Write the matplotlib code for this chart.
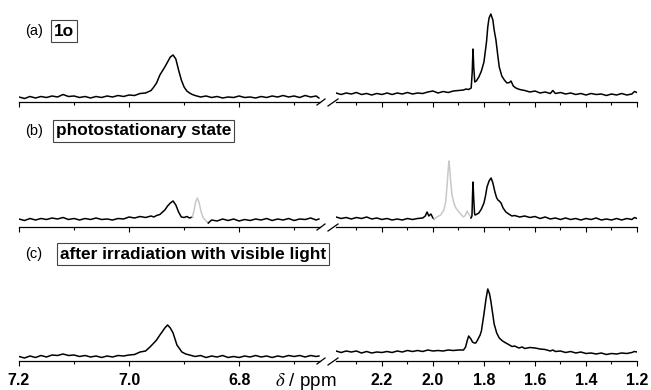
import numpy as np
import matplotlib.pyplot as plt
from matplotlib.ticker import MultipleLocator, FormatStrFormatter

plt.rcParams['font.family'] = ['Liberation Sans', 'DejaVu Sans']
plt.rcParams['mathtext.fontset'] = 'stix'

# spectra: (ppm, intensity) pairs, arbitrary units
# (a) 1o
a_left = [(7.20, 5), (7.19, 3.5), (7.18, 5.5), (7.17, 4), (7.16, 5.5), (7.15, 4.5), (7.14, 6), (7.13, 5),
          (7.12, 7.5), (7.11, 5.5), (7.10, 6), (7.09, 4.5), (7.08, 5.5), (7.07, 4), (7.06, 5.5), (7.05, 4.5),
          (7.04, 6), (7.03, 5), (7.02, 6.5), (7.01, 5.5), (7.00, 7), (6.99, 6.5), (6.98, 8.5), (6.97, 9),
          (6.96, 11.5), (6.955, 15), (6.95, 19), (6.944, 27), (6.935, 35), (6.93, 40), (6.925, 45), (6.92, 47),
          (6.915, 43), (6.91, 32), (6.905, 22), (6.90, 15), (6.895, 11), (6.89, 9), (6.885, 7.5), (6.88, 6.5),
          (6.87, 5), (6.86, 6), (6.85, 4.5), (6.84, 5.5), (6.83, 4), (6.82, 5), (6.81, 4.5), (6.80, 6),
          (6.79, 4.5), (6.78, 5), (6.77, 4), (6.76, 5.5), (6.75, 4.5), (6.74, 6), (6.73, 5), (6.72, 6.5),
          (6.71, 5), (6.70, 6), (6.69, 4.5), (6.68, 6.5), (6.67, 5), (6.66, 6), (6.655, 4)]
a_right = [(2.38, 9), (2.36, 7.5), (2.34, 9), (2.32, 8), (2.30, 9.5), (2.28, 7.5), (2.26, 8.5), (2.24, 7),
           (2.22, 8.5), (2.20, 7.5), (2.18, 9), (2.16, 7.5), (2.14, 9), (2.12, 8), (2.10, 9.5), (2.08, 8),
           (2.06, 9), (2.04, 8.5), (2.02, 10), (2.00, 11), (1.98, 9), (1.96, 10.5), (1.94, 9.5), (1.92, 11),
           (1.90, 11.5), (1.88, 12), (1.87, 13), (1.86, 12.5), (1.85, 14), (1.846, 30), (1.843, 53), (1.840, 35),
           (1.836, 20), (1.83, 21), (1.82, 25), (1.81, 31), (1.80, 40), (1.79, 60), (1.785, 75), (1.78, 84),
           (1.773, 88), (1.765, 82), (1.76, 72), (1.753, 62), (1.745, 45), (1.74, 35), (1.73, 26), (1.72, 22),
           (1.71, 19), (1.70, 19.5), (1.694, 21), (1.685, 16), (1.675, 14), (1.66, 12.5), (1.64, 11.5), (1.62, 10),
           (1.60, 11), (1.58, 9), (1.56, 10), (1.54, 8.5), (1.53, 11.5), (1.52, 8.5), (1.50, 9.5), (1.48, 8),
           (1.46, 9), (1.44, 7.5), (1.42, 8.5), (1.40, 7), (1.38, 8.5), (1.36, 7.5), (1.34, 8), (1.32, 6.5),
           (1.30, 8), (1.28, 7), (1.26, 8.5), (1.24, 7), (1.22, 8), (1.21, 10.5), (1.20, 9.5)]

# (b) photostationary state: black = 1o, grey = closed form
b_left_1 = [(7.20, 8), (7.19, 6.5), (7.18, 8.5), (7.17, 7), (7.16, 8.5), (7.15, 7.5), (7.14, 9), (7.13, 8),
            (7.12, 9.5), (7.11, 7.5), (7.10, 8.5), (7.09, 7), (7.08, 8.5), (7.07, 7.5), (7.06, 9), (7.05, 7.5),
            (7.04, 8), (7.03, 7), (7.02, 8.5), (7.01, 8), (7.00, 10), (6.99, 9), (6.98, 10.5), (6.97, 9.5),
            (6.96, 11), (6.955, 10), (6.95, 11.5), (6.944, 12.5), (6.935, 17), (6.93, 21), (6.925, 24), (6.92, 26),
            (6.915, 22), (6.91, 15), (6.905, 10), (6.90, 9.5), (6.895, 10.5), (6.89, 9), (6.885, 10)]
b_left_grey = [(6.885, 10), (6.882, 16), (6.879, 25), (6.876, 29), (6.873, 25), (6.869, 15), (6.865, 9),
               (6.86, 6), (6.856, 4)]
b_left_2 = [(6.856, 4), (6.85, 7), (6.84, 6), (6.83, 8), (6.82, 6.5), (6.81, 8), (6.80, 6), (6.79, 7.5),
            (6.78, 6.5), (6.77, 8), (6.76, 7), (6.75, 8.5), (6.74, 6.5), (6.73, 8), (6.72, 7), (6.71, 8.5),
            (6.70, 6.5), (6.69, 8), (6.68, 7.5), (6.67, 9), (6.66, 7), (6.655, 8)]
b_right_1 = [(2.38, 10), (2.36, 8.5), (2.34, 9.5), (2.32, 8), (2.30, 9.5), (2.28, 8.5), (2.26, 10), (2.24, 8),
             (2.22, 9), (2.20, 7.5), (2.18, 8.5), (2.16, 7), (2.14, 8), (2.12, 7), (2.10, 8.5), (2.08, 7.5),
             (2.06, 8.5), (2.04, 9), (2.03, 11), (2.023, 15), (2.016, 11), (2.008, 13), (2.00, 9), (1.996, 8)]
b_right_grey = [(1.996, 8), (1.984, 10), (1.97, 12), (1.957, 17), (1.95, 25), (1.945, 40), (1.94, 58),
                (1.937, 66), (1.933, 55), (1.93, 44), (1.925, 32), (1.918, 24), (1.91, 19), (1.898, 15),
                (1.888, 12), (1.88, 10), (1.872, 12), (1.866, 16), (1.86, 13), (1.851, 10)]
b_right_2 = [(1.851, 9), (1.847, 11), (1.845, 30), (1.843, 45), (1.840, 28), (1.837, 14), (1.835, 12),
             (1.83, 12.5), (1.82, 14), (1.81, 18), (1.80, 24), (1.794, 31), (1.788, 40), (1.78, 46), (1.772, 49),
             (1.765, 44), (1.757, 35), (1.75, 29), (1.745, 27), (1.74, 26), (1.733, 24), (1.725, 19), (1.714, 15),
             (1.70, 12.5), (1.69, 11), (1.68, 11.5), (1.66, 10), (1.64, 11), (1.62, 9.5), (1.60, 10.5), (1.58, 8.5),
             (1.56, 10), (1.54, 8), (1.52, 9), (1.50, 7.5), (1.48, 9), (1.46, 7.5), (1.44, 8.5), (1.42, 7),
             (1.40, 8.5), (1.38, 7.5), (1.36, 9), (1.34, 7), (1.32, 8), (1.30, 7), (1.28, 8.5), (1.26, 7),
             (1.24, 8.5), (1.22, 7.5), (1.21, 9.5), (1.20, 8.5)]

# (c) after irradiation with visible light
c_left = [(7.20, 4.5), (7.19, 3), (7.18, 5), (7.17, 3.5), (7.16, 5.5), (7.15, 4), (7.14, 6), (7.13, 5.5),
          (7.12, 7), (7.11, 5.5), (7.10, 6), (7.09, 4.5), (7.08, 5.5), (7.07, 4), (7.06, 5), (7.05, 3.5),
          (7.04, 5), (7.03, 4), (7.02, 5.5), (7.01, 5), (7.00, 6), (6.99, 6.5), (6.98, 9), (6.97, 10),
          (6.962, 14), (6.955, 18), (6.95, 21), (6.944, 26), (6.94, 29), (6.935, 33), (6.93, 36), (6.925, 33),
          (6.92, 28), (6.913, 16), (6.904, 9), (6.897, 7), (6.89, 6), (6.88, 4.5), (6.87, 5.5), (6.86, 3.5),
          (6.85, 5), (6.84, 4), (6.83, 5.5), (6.82, 3.5), (6.81, 4.5), (6.80, 3.5), (6.79, 5), (6.78, 4),
          (6.77, 5.5), (6.76, 4), (6.75, 5), (6.74, 3.5), (6.73, 5), (6.72, 4), (6.71, 5.5), (6.70, 4.5),
          (6.69, 5.5), (6.68, 4), (6.67, 5.5), (6.66, 4.5), (6.655, 5)]
c_right = [(2.38, 10), (2.36, 8.5), (2.34, 10), (2.32, 9), (2.30, 10), (2.28, 8), (2.26, 9.5), (2.24, 8),
           (2.22, 9), (2.20, 8.5), (2.18, 9.5), (2.16, 8.5), (2.14, 10), (2.12, 9), (2.10, 10.5), (2.08, 9.5),
           (2.06, 10.5), (2.04, 9.5), (2.02, 11), (2.00, 10), (1.98, 10.5), (1.96, 10), (1.94, 11), (1.92, 10.5),
           (1.90, 11), (1.88, 11), (1.872, 14), (1.866, 20), (1.86, 25), (1.851, 22), (1.845, 19), (1.838, 18),
           (1.832, 18), (1.825, 21), (1.815, 26), (1.81, 30), (1.80, 47), (1.792, 62), (1.785, 72), (1.778, 67),
           (1.773, 60), (1.765, 46), (1.76, 37), (1.75, 28), (1.74, 23), (1.727, 20), (1.714, 18), (1.70, 16),
           (1.69, 14.5), (1.68, 15), (1.663, 13), (1.65, 14), (1.64, 12.5), (1.62, 13.5), (1.60, 13), (1.58, 12),
           (1.56, 11.5), (1.54, 10), (1.53, 11), (1.52, 9.5), (1.50, 10), (1.48, 8.5), (1.46, 9.5), (1.44, 8),
           (1.42, 9), (1.40, 7.5), (1.38, 8), (1.36, 7), (1.34, 8), (1.32, 6.5), (1.30, 7.5), (1.28, 7),
           (1.26, 8), (1.24, 7.5), (1.22, 8.5), (1.21, 9.5), (1.20, 9)]

panel_tags = ['(a)', '(b)', '(c)']
panel_titles = ['1o', 'photostationary state', 'after irradiation with visible light']
left_range = (7.2, 6.653)
right_range = (2.38, 1.2)

BLACK = 'black'
GREY = '#c8c8c8'

W, H = 651, 390
fig = plt.figure(figsize=(W / 100, H / 100), dpi=100)


def add_px_axes(x0, x1, top, bottom):
    return fig.add_axes([x0 / W, 1 - bottom / H, (x1 - x0) / W, (bottom - top) / H])


rows = [
    dict(top=8, bottom=102, left=[(a_left, BLACK)], right=[(a_right, BLACK)]),
    dict(top=150, bottom=227, left=[(b_left_1, BLACK), (b_left_grey, GREY), (b_left_2, BLACK)],
         right=[(b_right_1, BLACK), (b_right_grey, GREY), (b_right_2, BLACK)]),
    dict(top=280, bottom=361, left=[(c_left, BLACK)], right=[(c_right, BLACK)]),
]
tag_y = [31, 131, 254]
box_x = [54, 56, 60]

for i, row in enumerate(rows):
    h = row['bottom'] - row['top']
    axl = add_px_axes(19, 320, row['top'], row['bottom'])
    axr = add_px_axes(336, 637, row['top'], row['bottom'])
    for ax, segs, xr in [(axl, row['left'], left_range), (axr, row['right'], right_range)]:
        for seg, col in segs:
            x, y = zip(*seg)
            ax.plot(x, y, color=col, lw=1.1, solid_joinstyle='round')
        ax.set_xlim(*xr)
        ax.set_ylim(0, h)
        for s in ['top', 'left', 'right']:
            ax.spines[s].set_visible(False)
        ax.spines['bottom'].set_linewidth(0.9)
        ax.set_yticks([])
        ax.xaxis.set_major_locator(MultipleLocator(0.2))
        ax.xaxis.set_minor_locator(MultipleLocator(0.1))
        ax.xaxis.set_major_formatter(FormatStrFormatter('%.1f'))
        ax.tick_params(axis='x', which='major', direction='out', length=3.5, width=0.8, pad=5,
                       labelsize=11.5)
        ax.tick_params(axis='x', which='minor', direction='out', length=2.5, width=0.8)
        if i < 2:
            ax.tick_params(axis='x', which='both', labelbottom=False)
        else:
            for lab in ax.get_xticklabels():
                lab.set_fontweight('bold')
        ax.patch.set_alpha(0)

    # break marks on the axis
    w = 301
    axl.plot([1 - 3 / w, 1 + 5 / w], [-3 / h, 3 / h], transform=axl.transAxes, color='black',
             lw=0.9, clip_on=False)
    axr.plot([-8 / w, 2 / w], [-4 / h, 3 / h], transform=axr.transAxes, color='black',
             lw=0.9, clip_on=False)

    fig.text(25 / W, 1 - tag_y[i] / H, panel_tags[i], fontsize=10.5, ha='left', va='center')
    fig.text(box_x[i] / W, 1 - tag_y[i] / H, panel_titles[i], fontsize=12.4, fontweight='bold',
             ha='left', va='center',
             bbox=dict(boxstyle='square,pad=0.18', fc='white', ec='#444444', lw=0.8))

fig.text(306 / W, 1 - 381 / H, r'$\delta$ / ppm', fontsize=13.5, ha='center', va='center')

fig.savefig('out.png', dpi=100)
